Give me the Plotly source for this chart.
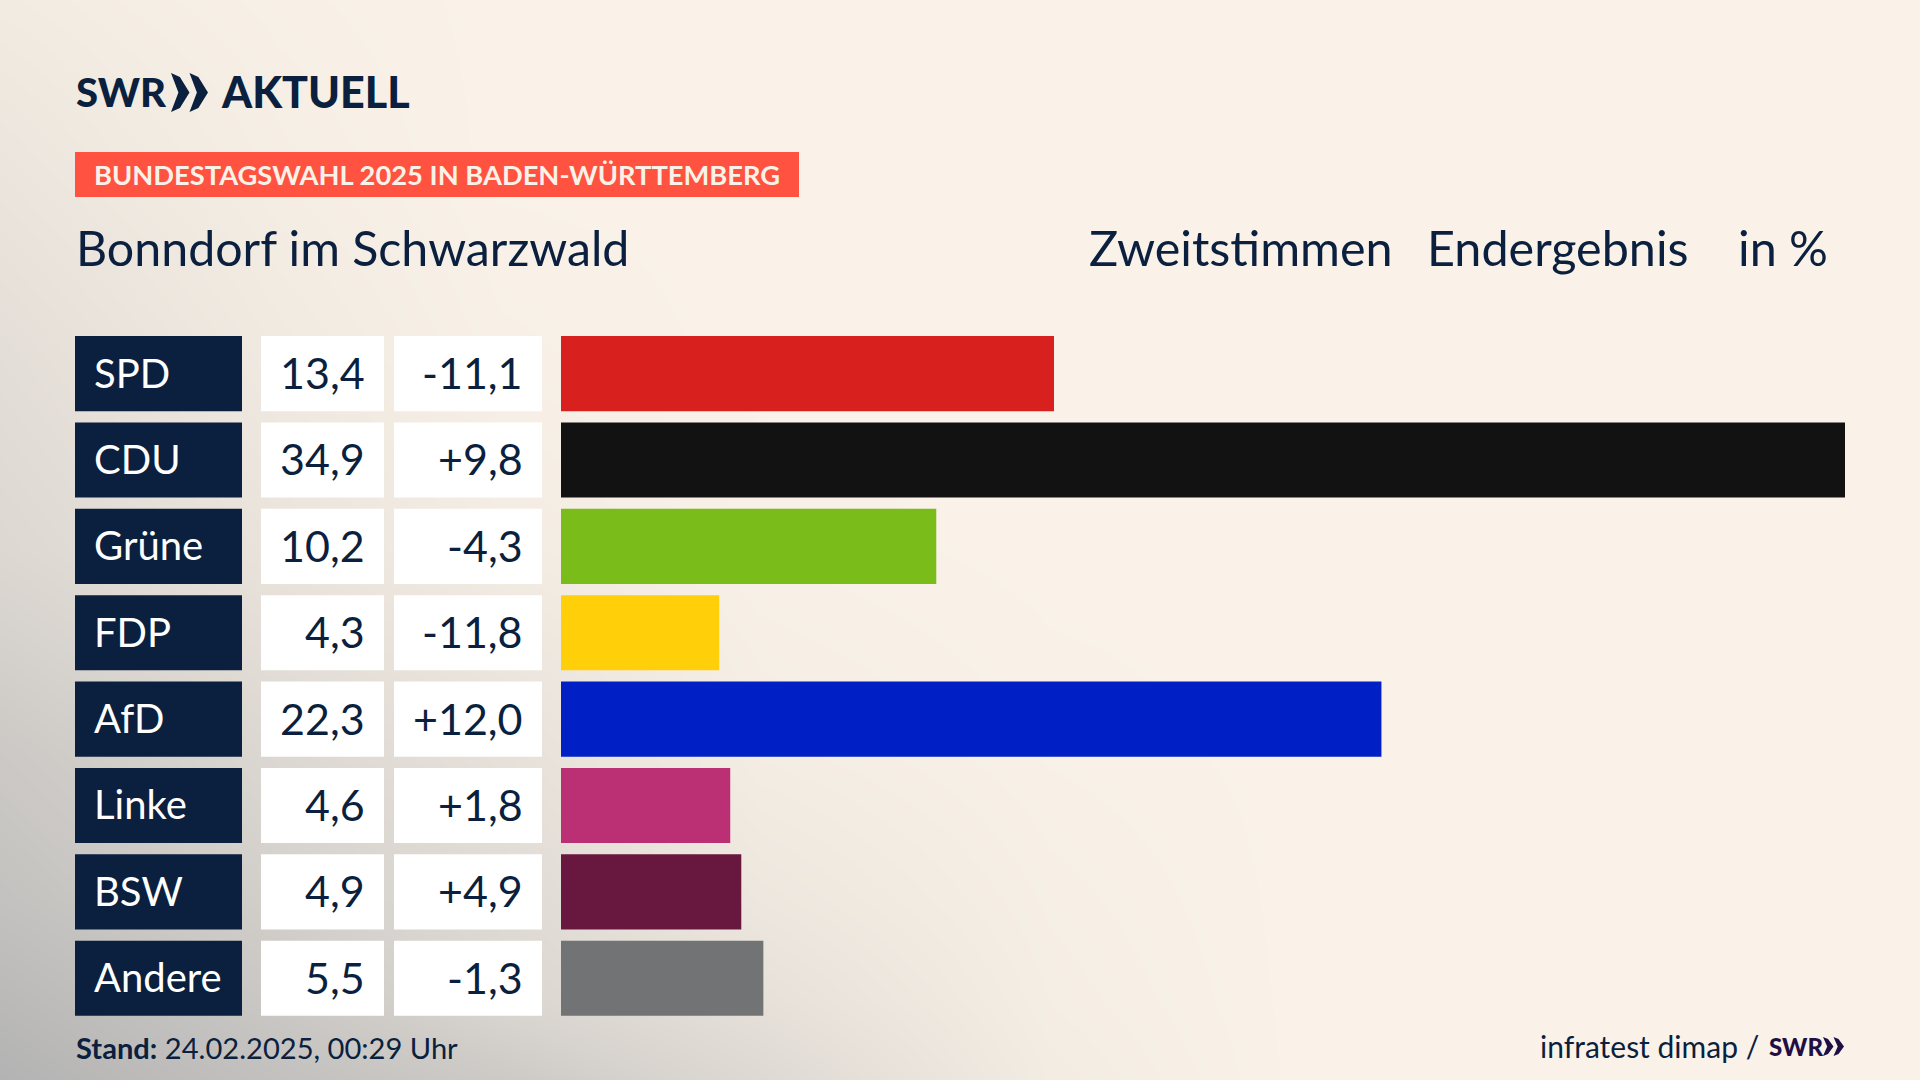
import plotly.graph_objects as go

W = 1920
H = 1080

# chart values
parties = ["SPD", "CDU", "Grüne", "FDP", "AfD", "Linke", "BSW", "Andere"]
results = [13.4, 34.9, 10.2, 4.3, 22.3, 4.6, 4.9, 5.5]
result_labels = ["13,4", "34,9", "10,2", "4,3", "22,3", "4,6", "4,9", "5,5"]
change_labels = ["-11,1", "+9,8", "-4,3", "-11,8", "+12,0", "+1,8", "+4,9", "-1,3"]
bar_colors = ["#d8201f", "#121212", "#7abd1a", "#ffcf0a", "#0020c6", "#bb3075", "#68183f", "#727375"]

# background, 0 = grey corner, 1 = cream
bg_x = [0, 120, 280, 500, 760, 1050, 1300, 1920]
bg_y = [0, 150, 350, 550, 750, 900, 1000, 1080]
bg_z = [
    [0.89, 0.93, 0.97, 1.00, 1.00, 1.00, 1.00, 1.00],
    [0.80, 0.87, 0.94, 1.00, 1.00, 1.00, 1.00, 1.00],
    [0.68, 0.76, 0.87, 0.97, 1.00, 1.00, 1.00, 1.00],
    [0.58, 0.66, 0.77, 0.90, 0.98, 1.00, 1.00, 1.00],
    [0.35, 0.45, 0.58, 0.72, 0.92, 0.98, 1.00, 1.00],
    [0.23, 0.32, 0.45, 0.62, 0.82, 0.95, 1.00, 1.00],
    [0.10, 0.20, 0.33, 0.55, 0.72, 0.93, 1.00, 1.00],
    [0.00, 0.10, 0.22, 0.36, 0.60, 0.90, 1.00, 1.00],
]

NAVY = "#0b1f3e"
CREAM = "#faf2e8"
FONT = "Lato"


def px(x):
    return x / W


def py(y):
    return 1 - y / H


fig = go.Figure()

fig.add_trace(go.Heatmap(
    x=bg_x, y=bg_y, z=bg_z, zmin=0, zmax=1, zsmooth="best", showscale=False,
    colorscale=[[0, "#b3b3b3"], [1, CREAM]], hoverinfo="skip",
    xaxis="x", yaxis="y",
))

# label column, white value columns, then the result bars
for axis, color in [("x2", NAVY), ("x3", "#ffffff"), ("x4", "#ffffff")]:
    fig.add_trace(go.Bar(
        x=[1] * len(parties), y=parties, orientation="h", width=0.87,
        marker=dict(color=color, line_width=0), hoverinfo="skip",
        xaxis=axis, yaxis="y2",
    ))

fig.add_trace(go.Bar(
    x=results, y=parties, orientation="h", width=0.87,
    marker=dict(color=bar_colors, line_width=0), hoverinfo="skip",
    xaxis="x5", yaxis="y2",
))


def hidden(**kw):
    return dict(visible=False, fixedrange=True, **kw)


layout_axes = dict(
    xaxis=hidden(domain=[0, 1], range=[0, W]),
    yaxis=hidden(domain=[0, 1], range=[H, 0]),
    xaxis2=hidden(domain=[px(75), px(242)], range=[0, 1], anchor="y2"),
    xaxis3=hidden(domain=[px(261), px(384)], range=[0, 1], anchor="y2"),
    xaxis4=hidden(domain=[px(394), px(542)], range=[0, 1], anchor="y2"),
    xaxis5=hidden(domain=[px(561), px(1845)], range=[0, 34.9], anchor="y2"),
    yaxis2=hidden(domain=[py(1021.4), py(330.4)], type="category", categoryorder="array",
                  categoryarray=parties, range=[7.5, -0.5], anchor="x2"),
)


def note(text, x, y, size, anchor="left", color=NAVY, weight=None):
    font = dict(family=FONT, size=size, color=color)
    if weight:
        font["weight"] = weight
    return dict(text=text, x=px(x), y=py(y), xref="paper", yref="paper", xanchor=anchor,
                yanchor="middle", showarrow=False, borderpad=0, font=font)


annotations = [
    note("SWR", 75, 92, 40, weight=900),
    note("AKTUELL", 220, 92, 43, weight=900),
    note("<b>BUNDESTAGSWAHL 2025 IN BADEN-WÜRTTEMBERG</b>", 93, 175, 27.3, color=CREAM),
    note("Bonndorf im Schwarzwald", 75, 247, 48.3),
    note("Zweitstimmen", 1088, 247, 48.5),
    note("Endergebnis", 1426, 247, 48.5),
    note("in %", 1737, 247, 48.5),
    note("<b>Stand:</b> 24.02.2025, 00:29 Uhr", 75, 1047, 29.1),
    note("infratest dimap /", 1539, 1046, 30),
    note("SWR", 1768, 1046, 24, color="#1f0f45", weight=900),
]

# cell texts, placed through the column axes
columns = [
    ("x2", 0.108, "left", parties, "#ffffff", 40),
    ("x3", 0.855, "right", result_labels, NAVY, 43),
    ("x4", 0.875, "right", change_labels, NAVY, 43),
]
for axis, text_x, anchor, labels, color, size in columns:
    for party, label in zip(parties, labels):
        annotations.append(dict(
            text=label, x=text_x, y=party, xref=axis, yref="y2", xanchor=anchor,
            yanchor="middle", yshift=1, showarrow=False, borderpad=0,
            font=dict(family=FONT, size=size, color=color),
        ))


def chevrons(x, y, w, h):
    # two arrow heads of the SWR mark, x/y is the top left corner in pixels
    path = ""
    step = w * 0.5
    for i in range(2):
        x0 = x + i * step
        pts = [(x0, y), (x0 + w * 0.24, y + h * 0.1), (x0 + w * 0.5, y + h / 2),
               (x0 + w * 0.24, y + h * 0.9), (x0, y + h), (x0 + w * 0.2, y + h / 2)]
        path += "M " + " L ".join(f"{px(a):.5f} {py(b):.5f}" for a, b in pts) + " Z "
    return path


shapes = [
    dict(type="rect", xref="paper", yref="paper", x0=px(75), x1=px(799), y0=py(197), y1=py(152),
         fillcolor="#ff5240", line_width=0, layer="above"),
    dict(type="path", xref="paper", yref="paper", path=chevrons(171, 73, 37, 39),
         fillcolor=NAVY, line_width=0, layer="above"),
    dict(type="path", xref="paper", yref="paper", path=chevrons(1823, 1037, 21, 19),
         fillcolor="#1f0f45", line_width=0, layer="above"),
]

fig.update_layout(
    width=W, height=H, margin=dict(l=0, r=0, t=0, b=0, pad=0),
    showlegend=False, barmode="overlay",
    paper_bgcolor=CREAM, plot_bgcolor="rgba(0,0,0,0)",
    annotations=annotations, shapes=shapes,
    **layout_axes,
)

fig.write_html("out.html", config=dict(displayModeBar=False),
               post_script="document.body.style.margin='0';")
